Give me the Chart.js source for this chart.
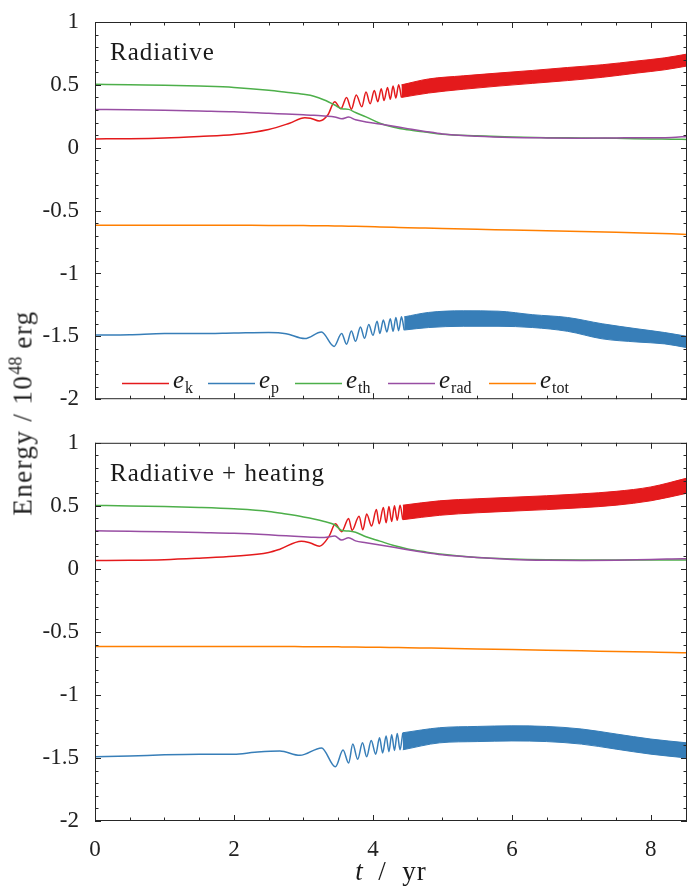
<!DOCTYPE html>
<html>
<head>
<meta charset="utf-8">
<script src="https://cdn.jsdelivr.net/npm/chart.js@4.4.1/dist/chart.umd.min.js"></script>
<style>
  body { margin: 0; background: #fff; }
  #wrap { position: relative; width: 689px; height: 890px; overflow: hidden; }
  canvas { position: absolute; left: 0; }
  #topChart { top: 0; }
  #bottomChart { top: 421px; }
  #ylabel {
    position: absolute; left: 22px; top: 413px;
    transform: translate(-50%, -50%) rotate(-90deg);
    white-space: nowrap; font-family: 'Liberation Serif', serif;
    font-size: 27px; letter-spacing: 1.4px; color: #222;
  }
  #ylabel sup { font-size: 18px; letter-spacing: 0; }
</style>
</head>
<body>
<div id="wrap">
  <canvas id="topChart" width="689" height="421"></canvas>
  <canvas id="bottomChart" width="689" height="469"></canvas>
  <div id="ylabel">Energy / 10<sup>48</sup> erg</div>
</div>
<script>
// ---- axes ----
const xMax = 8.52;
const xMajor = [0, 2, 4, 6, 8];
const yMajor = [-2, -1.5, -1, -0.5, 0, 0.5, 1];

// ---- smooth series, shared time grid (yr) ----
const tSmooth = [0, 0.5, 1, 1.5, 2, 2.5, 2.75, 3.0, 3.15, 3.3, 3.45, 3.55, 3.65, 3.75, 3.9, 4.1, 4.3, 4.5, 4.75, 5, 5.5, 6, 6.5, 7, 7.5, 8, 8.3, 8.52];

const ethTop  = [0.505, 0.5, 0.497, 0.49, 0.48, 0.458, 0.442, 0.425, 0.41, 0.38, 0.34, 0.31, 0.305, 0.28, 0.245, 0.195, 0.163, 0.143, 0.125, 0.108, 0.095, 0.085, 0.08, 0.078, 0.075, 0.07, 0.068, 0.066];
const eradTop = [0.305, 0.302, 0.298, 0.292, 0.286, 0.274, 0.268, 0.262, 0.258, 0.252, 0.245, 0.23, 0.244, 0.222, 0.205, 0.188, 0.17, 0.152, 0.13, 0.11, 0.092, 0.082, 0.078, 0.076, 0.078, 0.08, 0.082, 0.09];
const etotTop = [-0.617, -0.617, -0.617, -0.617, -0.617, -0.618, -0.618, -0.619, -0.62, -0.621, -0.622, -0.623, -0.624, -0.625, -0.627, -0.63, -0.633, -0.636, -0.639, -0.642, -0.648, -0.655, -0.661, -0.667, -0.673, -0.68, -0.685, -0.69];

const ethBot  = [0.503, 0.499, 0.494, 0.487, 0.476, 0.456, 0.435, 0.412, 0.396, 0.376, 0.35, 0.305, 0.3, 0.29, 0.255, 0.22, 0.185, 0.158, 0.135, 0.115, 0.09, 0.078, 0.072, 0.07, 0.07, 0.07, 0.07, 0.07];
const eradBot = [0.302, 0.298, 0.294, 0.288, 0.282, 0.27, 0.262, 0.255, 0.25, 0.248, 0.26, 0.228, 0.247, 0.222, 0.208, 0.19, 0.172, 0.152, 0.13, 0.112, 0.09, 0.075, 0.068, 0.066, 0.068, 0.075, 0.078, 0.08];
const etotBot = [-0.615, -0.615, -0.615, -0.615, -0.615, -0.616, -0.616, -0.617, -0.617, -0.618, -0.618, -0.619, -0.619, -0.62, -0.621, -0.622, -0.624, -0.626, -0.628, -0.63, -0.635, -0.64, -0.645, -0.65, -0.655, -0.66, -0.663, -0.666];

// ---- e_k / e_p, resolved part (extrema) ----
const tEkTop = [0, 0.5, 1, 1.5, 2, 2.5, 2.8, 3.02, 3.1, 3.23, 3.35, 3.45, 3.54, 3.62, 3.69, 3.76, 3.84, 3.9, 3.96, 4.02, 4.07, 4.12, 4.16, 4.21, 4.25, 4.29, 4.33, 4.37, 4.41];
const ekTop  = [0.07, 0.072, 0.078, 0.09, 0.105, 0.145, 0.195, 0.238, 0.235, 0.213, 0.26, 0.365, 0.31, 0.40, 0.307, 0.42, 0.325, 0.443, 0.35, 0.455, 0.365, 0.47, 0.375, 0.48, 0.385, 0.49, 0.395, 0.50, 0.40];
const tEpTop = [0, 0.5, 1, 1.5, 2, 2.5, 2.75, 3.02, 3.26, 3.44, 3.55, 3.62, 3.69, 3.75, 3.82, 3.88, 3.94, 4.0, 4.06, 4.1, 4.15, 4.2, 4.25, 4.29, 4.33, 4.37, 4.41, 4.45];
const epTop  = [-1.49, -1.487, -1.478, -1.478, -1.474, -1.47, -1.479, -1.518, -1.466, -1.58, -1.477, -1.562, -1.458, -1.54, -1.425, -1.516, -1.406, -1.492, -1.38, -1.477, -1.37, -1.465, -1.36, -1.46, -1.35, -1.455, -1.345, -1.45];

const tEkBot = [0, 0.5, 1, 1.5, 2, 2.5, 2.66, 2.97, 3.1, 3.23, 3.37, 3.46, 3.55, 3.65, 3.7, 3.8, 3.855, 3.91, 3.98, 4.05, 4.09, 4.15, 4.19, 4.23, 4.27, 4.31, 4.35, 4.39, 4.43];
const ekBot  = [0.067, 0.068, 0.073, 0.085, 0.1, 0.13, 0.156, 0.22, 0.205, 0.18, 0.26, 0.357, 0.295, 0.40, 0.305, 0.417, 0.31, 0.435, 0.34, 0.47, 0.357, 0.487, 0.365, 0.495, 0.375, 0.50, 0.385, 0.505, 0.39];
const tEpBot = [0, 0.5, 1, 1.5, 2, 2.3, 2.66, 2.95, 3.26, 3.46, 3.57, 3.65, 3.71, 3.78, 3.85, 3.91, 3.975, 4.04, 4.095, 4.14, 4.19, 4.23, 4.27, 4.31, 4.35, 4.39, 4.43];
const epBot  = [-1.49, -1.485, -1.475, -1.47, -1.47, -1.455, -1.445, -1.479, -1.42, -1.57, -1.437, -1.54, -1.39, -1.51, -1.38, -1.49, -1.362, -1.47, -1.34, -1.46, -1.325, -1.45, -1.315, -1.44, -1.305, -1.435, -1.30];

// ---- e_k / e_p, dense oscillation: upper / lower envelopes ----
const tEkBandTop = [4.41, 4.8, 5.3, 5.8, 6.3, 6.8, 7.3, 7.8, 8.2, 8.52];
const ekTopHi    = [0.50, 0.547, 0.572, 0.594, 0.615, 0.638, 0.66, 0.69, 0.715, 0.745];
const ekTopLo    = [0.40, 0.435, 0.465, 0.49, 0.512, 0.534, 0.56, 0.594, 0.62, 0.65];
const tEpBandTop = [4.45, 4.8, 5.3, 5.8, 6.3, 6.8, 7.3, 7.8, 8.2, 8.52];
const epTopHi    = [-1.345, -1.31, -1.297, -1.30, -1.328, -1.35, -1.40, -1.44, -1.47, -1.50];
const epTopLo    = [-1.45, -1.43, -1.42, -1.42, -1.43, -1.46, -1.52, -1.545, -1.56, -1.59];

const tEkBandBot = [4.43, 4.96, 5.5, 6, 6.5, 7, 7.5, 8, 8.52];
const ekBotHi    = [0.505, 0.54, 0.556, 0.568, 0.58, 0.595, 0.615, 0.65, 0.72];
const ekBotLo    = [0.39, 0.425, 0.445, 0.458, 0.47, 0.485, 0.505, 0.54, 0.60];
const tEpBandBot = [4.43, 4.96, 5.5, 6, 6.5, 7, 7.5, 8, 8.52];
const epBotHi    = [-1.30, -1.26, -1.25, -1.245, -1.25, -1.27, -1.31, -1.35, -1.38];
const epBotLo    = [-1.435, -1.38, -1.37, -1.365, -1.37, -1.39, -1.43, -1.47, -1.50];

const legendNames = ['k', 'p', 'th', 'rad', 'tot'];

const RED = '#e41a1c', BLUE = '#377eb8', GREEN = '#4daf4a', PURPLE = '#984ea3', ORANGE = '#ff7f00';
const legendColors = [RED, BLUE, GREEN, PURPLE, ORANGE];
const FONT = "'Liberation Serif', serif";

function pts(ts, vs) { return ts.map((t, i) => ({ x: t, y: vs[i] })); }
function line(ts, vs, color) {
  return { data: pts(ts, vs), borderColor: color, backgroundColor: color, fill: false };
}
function band(ts, hi, lo, color) {
  return [
    { data: pts(ts, hi), borderColor: color, borderWidth: 1, fill: false },
    { data: pts(ts, lo), borderColor: color, borderWidth: 1, backgroundColor: color, fill: '-1' }
  ];
}

// inward ticks on all four sides plus the box
const framePlugin = {
  id: 'frame',
  afterDatasetsDraw(chart) {
    const { ctx, chartArea: a, scales: { x, y } } = chart;
    ctx.save();
    ctx.strokeStyle = '#262626';
    ctx.lineWidth = 1;
    ctx.strokeRect(a.left + 0.5, a.top + 0.5, a.right - a.left - 1, a.bottom - a.top - 1);
    ctx.beginPath();
    for (let k = 0; k * 0.5 <= xMax; k++) {
      const len = k % 4 === 0 ? 6 : 3.5;
      const px = Math.round(x.getPixelForValue(k * 0.5)) + 0.5;
      ctx.moveTo(px, a.bottom); ctx.lineTo(px, a.bottom - len);
      ctx.moveTo(px, a.top); ctx.lineTo(px, a.top + len);
    }
    for (let k = -20; k <= 10; k++) {
      const len = k % 5 === 0 ? 6 : 3.5;
      const py = Math.round(y.getPixelForValue(k / 10)) + 0.5;
      ctx.moveTo(a.left, py); ctx.lineTo(a.left + len, py);
      ctx.moveTo(a.right, py); ctx.lineTo(a.right - len, py);
    }
    ctx.stroke();
    ctx.restore();
  }
};

function titlePlugin(text) {
  return {
    id: 'panelTitle',
    afterDraw(chart) {
      const { ctx, chartArea: a } = chart;
      ctx.save();
      ctx.font = '25px ' + FONT;
      ctx.letterSpacing = '1px';
      ctx.fillStyle = '#1a1a1a';
      ctx.textBaseline = 'alphabetic';
      ctx.fillText(text, a.left + 15, a.top + 38);
      ctx.restore();
    }
  };
}

const legendPlugin = {
  id: 'mathLegend',
  afterDraw(chart) {
    const { ctx } = chart;
    const starts = [122, 208, 295, 388, 489];
    const y = 383;
    ctx.save();
    legendNames.forEach((sub, i) => {
      const x0 = starts[i];
      ctx.strokeStyle = legendColors[i];
      ctx.lineWidth = 1.5;
      ctx.beginPath();
      ctx.moveTo(x0, y + 0.5); ctx.lineTo(x0 + 47, y + 0.5);
      ctx.stroke();
      ctx.fillStyle = '#1a1a1a';
      ctx.font = 'italic 25px ' + FONT;
      ctx.fillText('e', x0 + 51, y + 5);
      const w = ctx.measureText('e').width;
      ctx.font = '16px ' + FONT;
      ctx.fillText(sub, x0 + 51 + w + 1, y + 10);
    });
    ctx.restore();
  }
};

const xTitlePlugin = {
  id: 'xTitle',
  afterDraw(chart) {
    const { ctx, chartArea: a } = chart;
    ctx.save();
    ctx.fillStyle = '#1a1a1a';
    ctx.font = 'italic 27px ' + FONT;
    const tW = ctx.measureText('t').width;
    ctx.font = '27px ' + FONT;
    ctx.letterSpacing = '1px';
    const rest = '  /  yr';
    const rW = ctx.measureText(rest).width;
    const cx = (a.left + a.right) / 2;
    const x0 = cx - (tW + rW) / 2;
    const base = 459;
    ctx.fillText(rest, x0 + tW, base);
    ctx.letterSpacing = '0px';
    ctx.font = 'italic 27px ' + FONT;
    ctx.fillText('t', x0, base);
    ctx.restore();
  }
};

function panelOptions(padTop, xHeight, showX) {
  return {
    responsive: false,
    animation: false,
    layout: { padding: { top: padTop, right: 2, left: 0, bottom: 0 } },
    plugins: { legend: { display: false }, tooltip: { enabled: false } },
    elements: {
      point: { radius: 0 },
      line: { borderWidth: 1.5, cubicInterpolationMode: 'monotone' }
    },
    scales: {
      x: {
        type: 'linear', min: 0, max: xMax,
        grid: { display: false }, border: { display: false },
        afterBuildTicks: s => { s.ticks = xMajor.map(v => ({ value: v })); },
        afterFit: s => { s.height = xHeight; },
        ticks: { display: showX, padding: 7, color: '#222', maxRotation: 0, autoSkip: false,
                 font: { family: FONT, size: 23 } }
      },
      y: {
        type: 'linear', min: -2, max: 1,
        grid: { display: false }, border: { display: false },
        afterBuildTicks: s => { s.ticks = yMajor.map(v => ({ value: v })); },
        afterFit: s => { s.width = 95; },
        ticks: { padding: 8, color: '#222', font: { family: FONT, size: 23 },
                 callback: v => String(v) }
      }
    }
  };
}

new Chart(document.getElementById('topChart'), {
  type: 'line',
  data: {
    datasets: [
      line(tSmooth, etotTop, ORANGE),
      line(tSmooth, eradTop, PURPLE),
      line(tSmooth, ethTop, GREEN),
      line(tEpTop, epTop, BLUE),
      ...band(tEpBandTop, epTopHi, epTopLo, BLUE),
      line(tEkTop, ekTop, RED),
      ...band(tEkBandTop, ekTopHi, ekTopLo, RED)
    ]
  },
  options: panelOptions(22, 15, false),
  plugins: [framePlugin, titlePlugin('Radiative'), legendPlugin]
});

new Chart(document.getElementById('bottomChart'), {
  type: 'line',
  data: {
    datasets: [
      line(tSmooth, etotBot, ORANGE),
      line(tSmooth, eradBot, PURPLE),
      line(tSmooth, ethBot, GREEN),
      line(tEpBot, epBot, BLUE),
      ...band(tEpBandBot, epBotHi, epBotLo, BLUE),
      line(tEkBot, ekBot, RED),
      ...band(tEkBandBot, ekBotHi, ekBotLo, RED)
    ]
  },
  options: panelOptions(16, 69, true),
  plugins: [framePlugin, titlePlugin('Radiative + heating'), xTitlePlugin]
});
</script>
</body>
</html>
